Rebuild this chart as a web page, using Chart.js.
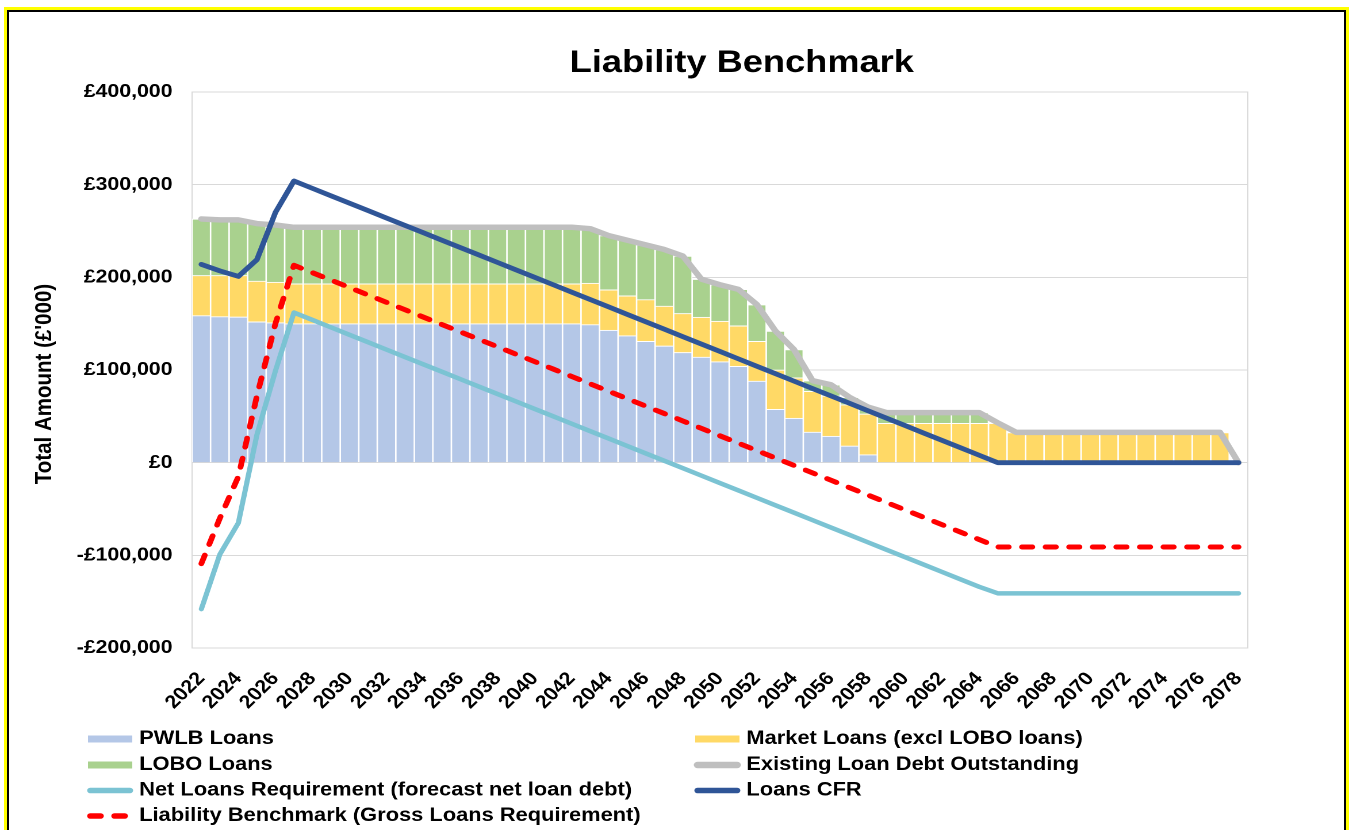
<!DOCTYPE html>
<html>
<head>
<meta charset="utf-8">
<script src="https://cdn.jsdelivr.net/npm/chart.js@4.4.1/dist/chart.umd.min.js"></script>
<style>
html,body{margin:0;padding:0;background:#fff;width:1349px;height:830px;overflow:hidden;}
#frame{position:absolute;left:4px;top:7px;width:1345px;height:900px;box-sizing:border-box;border:3px solid #FFFF00;}
#frame .inner{position:absolute;left:0;top:0;right:0;bottom:0;border:2px solid #000;}
#wrap{position:absolute;left:0;top:0;width:1173px;height:830px;transform:scaleX(1.15004);transform-origin:0 0;}
</style>
</head>
<body>
<div id="frame"><div class="inner"></div></div>
<div id="wrap"><canvas id="c"></canvas></div>
<script>
// ---------------- DATA (£'000) ----------------
const years = ['2022','2023','2024','2025','2026','2027','2028','2029','2030','2031','2032','2033','2034','2035','2036','2037','2038','2039','2040','2041','2042','2043','2044','2045','2046','2047','2048','2049','2050','2051','2052','2053','2054','2055','2056','2057','2058','2059','2060','2061','2062','2063','2064','2065','2066','2067','2068','2069','2070','2071','2072','2073','2074','2075','2076','2077','2078'];

const pwlbLoans = [158700,157600,157300,152000,151000,
  150000,150000,150000,150000,150000,150000,150000,150000,150000,150000,150000,150000,150000,150000,150000,150000,
  149000,143000,137000,131000,126000,119000,114000,109000,104000,88000,57500,48000,33000,28500,18000,8600,
  0,0,0,0,0,0,0,0,0,0,0,0,0,0,0,0,0,0,0,0];

const marketLoans = [43300,44400,44700,44000,43700,
  43000,43000,43000,43000,43000,43000,43000,43000,43000,43000,43000,43000,43000,43000,43000,43000,
  44600,43500,43000,45000,43000,42000,43000,43600,43600,43000,42500,43500,44000,43500,44500,44000,
  42500,42500,42500,42500,42500,42500,42500,
  32500,32500,32500,32500,32500,32500,32500,32500,32500,32500,32500,32500,
  0];

const loboLoans = [61000,60000,60000,62000,61800,
  61000,61000,61000,61000,61000,61000,61000,61000,61000,61000,61000,61000,61000,61000,61000,61000,
  58900,58500,60000,59000,61000,62000,41000,39400,39400,39500,42000,30500,11500,12000,8000,7400,
  11500,11500,11500,11500,11500,11500,
  0,0,0,0,0,0,0,0,0,0,0,0,0,0];

const existingDebt = [263000,262000,262000,258000,256500,
  254000,254000,254000,254000,254000,254000,254000,254000,254000,254000,254000,254000,254000,254000,254000,254000,
  252500,245000,240000,235000,230000,223000,198000,192000,187000,170500,142000,122000,88500,84000,70500,60000,
  54000,54000,54000,54000,54000,54000,
  43000,
  32700,32700,32700,32700,32700,32700,32700,32700,32700,32700,32700,32700,
  0];

const netLoansReq = [-158000,-99000,-65000,30000,99000,162000,
  154000,146000,138000,130000,122000,114000,106000,98000,90000,82000,74000,66000,58000,50000,42000,34000,26000,18000,10000,2000,
  -6000,-14000,-22000,-30000,-38000,-46000,-54000,-62000,-70000,-78000,-86000,-94000,-102000,-110000,-118000,-126000,-134000,-141000,
  -141000,-141000,-141000,-141000,-141000,-141000,-141000,-141000,-141000,-141000,-141000,-141000,-141000];

const loansCFR = [214000,207000,201000,219000,270000,304000,
  296000,288000,280000,272000,264000,256000,248000,240000,232000,224000,216000,208000,200000,192000,184000,176000,168000,160000,152000,144000,
  136000,128000,120000,112000,104000,96000,88000,80000,72000,64000,56000,48000,40000,32000,24000,16000,8000,0,
  0,0,0,0,0,0,0,0,0,0,0,0,0];

const liabilityBenchmark = [-109000,-60000,-15000,72000,150000,213000,
  205000,197000,189000,181000,173000,165000,157000,149000,141000,133000,125000,117000,109000,101000,93000,85000,77000,69000,61000,53000,
  45000,37000,29000,21000,13000,5000,-3000,-11000,-19000,-27000,-35000,-43000,-51000,-59000,-67000,-75000,-83000,-91000,
  -91000,-91000,-91000,-91000,-91000,-91000,-91000,-91000,-91000,-91000,-91000,-91000,-91000];

const yTickValues = [-200000,-100000,0,100000,200000,300000,400000];

// ---------------- CHART ----------------
const FONT = "'Liberation Sans', Arial, Helvetica, sans-serif";
const chartTitle = 'Liability Benchmark';
const yAxisTitle = "Total Amount (£'000)";

const frameTitlePlugin = {
  id: 'frameTitle',
  beforeDatasetsDraw(chart) {
    const {ctx, chartArea: a} = chart;
    ctx.save();
    ctx.strokeStyle = '#D9D9D9';
    ctx.lineWidth = 1;
    ctx.strokeRect(a.left, a.top, a.right - a.left, a.bottom - a.top);
    ctx.restore();
  },
  afterDraw(chart) {
    const ctx = chart.ctx;
    ctx.save();
    ctx.fillStyle = '#000';
    ctx.font = "bold 31.5px " + FONT;
    ctx.textAlign = 'center';
    ctx.textBaseline = 'alphabetic';
    ctx.fillText(chartTitle, 645, 72);
    // y axis title
    ctx.save();
    ctx.translate(39, 384);
    ctx.rotate(-Math.PI / 2);
    ctx.font = "bold 20.5px " + FONT;
    ctx.textBaseline = 'middle';
    ctx.fillText(yAxisTitle, 0, 0);
    ctx.restore();
    // legend
    const colX = [76.5, 604.5];
    const swW = 38.5;
    const rowY = [739, 765, 790.5, 816];
    ctx.font = "bold 19px " + FONT;
    ctx.textAlign = 'left';
    ctx.textBaseline = 'middle';
    chart.data.datasets.forEach((ds, k) => {
      const x0 = colX[k % 2];
      const y = rowY[Math.floor(k / 2)];
      if (ds.type === 'bar') {
        ctx.fillStyle = ds.backgroundColor;
        ctx.fillRect(x0, y - 3.5, swW, 7);
      } else {
        ctx.strokeStyle = ds.borderColor;
        ctx.lineWidth = ds.legendWidth;
        ctx.lineCap = 'round';
        ctx.setLineDash(ds.legendDash || []);
        ctx.beginPath();
        ctx.moveTo(x0 + 2, y);
        ctx.lineTo(x0 + swW - 2, y);
        ctx.stroke();
        ctx.setLineDash([]);
      }
      ctx.fillStyle = '#000';
      ctx.fillText(ds.label, x0 + swW + 6, y);
    });
    ctx.restore();
  }
};

const barBase = {type: 'bar', stack: 'debt', order: 10, borderColor: '#FFFFFF', borderWidth: 1, barPercentage: 1, categoryPercentage: 1};
const lineBase = {type: 'line', pointRadius: 0, pointHoverRadius: 0, tension: 0, fill: false, borderJoinStyle: 'round', borderCapStyle: 'round'};

new Chart(document.getElementById('c'), {
  type: 'bar',
  data: {
    labels: years,
    datasets: [
      Object.assign({}, barBase, {label: 'PWLB Loans', data: pwlbLoans, backgroundColor: '#B4C7E7'}),
      Object.assign({}, barBase, {label: 'Market Loans (excl LOBO loans)', data: marketLoans, backgroundColor: '#FFD966'}),
      Object.assign({}, barBase, {label: 'LOBO Loans', data: loboLoans, backgroundColor: '#A9D18E'}),
      Object.assign({}, lineBase, {label: 'Existing Loan Debt Outstanding', data: existingDebt, stack: 's1', order: 3, borderColor: '#BFBFBF', borderWidth: 5.5, legendWidth: 6.5}),
      Object.assign({}, lineBase, {label: 'Net Loans Requirement (forecast net loan debt)', data: netLoansReq, stack: 's2', order: 2, borderColor: '#7BC3D3', borderWidth: 4.5, legendWidth: 5.5}),
      Object.assign({}, lineBase, {label: 'Loans CFR', data: loansCFR, stack: 's3', order: 0, borderColor: '#2F5597', borderWidth: 4.8, legendWidth: 5.5}),
      Object.assign({}, lineBase, {label: 'Liability Benchmark (Gross Loans Requirement)', data: liabilityBenchmark, stack: 's4', order: 1, borderColor: '#FF0000', borderWidth: 5, borderDash: [9, 11.5], legendWidth: 5.5, legendDash: [9, 12]})
    ]
  },
  options: {
    responsive: true,
    maintainAspectRatio: false,
    devicePixelRatio: 2,
    animation: false,
    layout: {padding: {left: 10, top: 92, right: 88, bottom: 0}},
    plugins: {legend: {display: false}, title: {display: false}, tooltip: {enabled: false}},
    scales: {
      x: {
        stacked: true,
        offset: true,
        grid: {display: false, drawTicks: false},
        border: {display: false},
        ticks: {
          autoSkip: false, minRotation: 48, maxRotation: 48, padding: 20, color: '#000',
          font: {family: FONT, size: 18.5, weight: 'bold'},
          callback: (v, i) => (i % 2 === 0 ? years[i] : '')
        },
        afterFit: s => { s.height = 182; }
      },
      y: {
        stacked: true,
        min: -200000, max: 400000,
        afterBuildTicks: s => { s.ticks = yTickValues.map(v => ({value: v})); },
        grid: {color: '#D9D9D9', lineWidth: 1, drawTicks: false},
        border: {display: false},
        ticks: {
          padding: 17, color: '#000',
          font: {family: FONT, size: 18.5, weight: 'bold'},
          callback: v => (v < 0 ? '-' : '') + '£' + Math.abs(v).toLocaleString('en-GB')
        },
        title: {display: false},
        afterFit: s => { s.width = 157; }
      }
    }
  },
  plugins: [frameTitlePlugin]
});
</script>
</body>
</html>
